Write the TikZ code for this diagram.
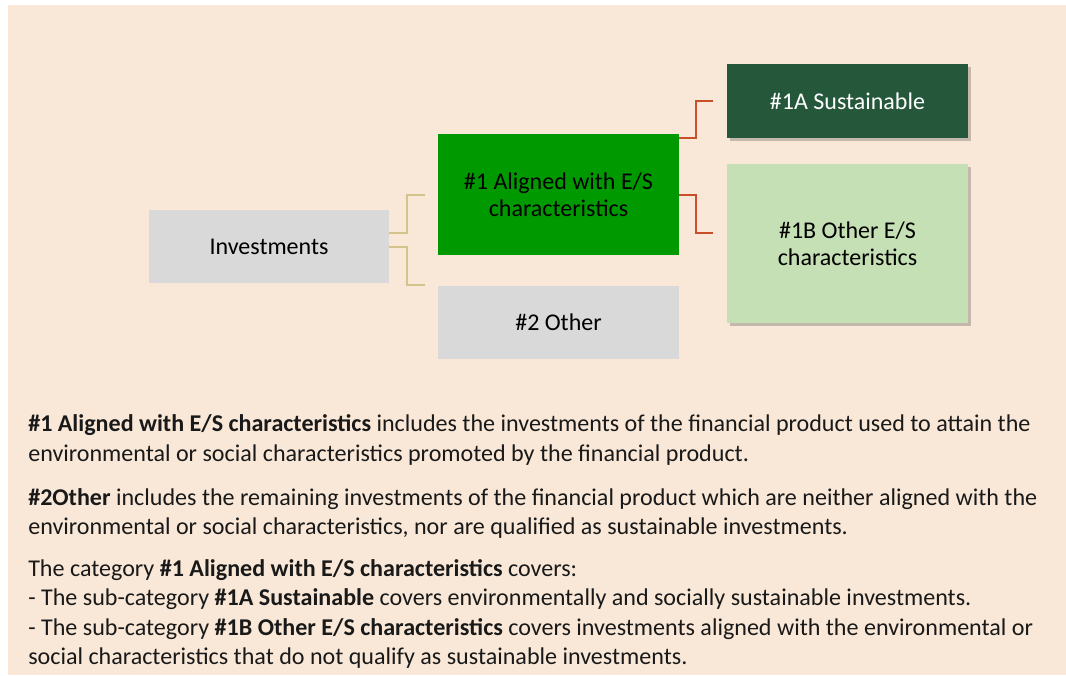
\documentclass[tikz,border=0pt]{standalone}
\usepackage{fontspec}
\setmainfont{Carlito}
\usetikzlibrary{shadows}
\definecolor{bgpeach}{RGB}{249,232,215}
\definecolor{boxgray}{RGB}{217,217,217}
\definecolor{midgreen}{RGB}{0,153,0}
\definecolor{darkgreen}{RGB}{37,88,58}
\definecolor{lightgreen}{RGB}{197,224,180}
\definecolor{tanline}{RGB}{212,196,140}
\definecolor{redline}{RGB}{200,78,44}
\tikzset{
  box/.style={rectangle, inner sep=0pt, align=center, font=\fontsize{18}{20.2}\selectfont, text=black},
  shadowbox/.style={box, drop shadow={shadow xshift=2pt, shadow yshift=-2pt, opacity=0.3, fill=black!70}},
  tanconn/.style={draw=tanline, line width=1.5pt},
  redconn/.style={draw=redline, line width=1.5pt},
  bodyline/.style={anchor=base west, inner sep=0pt, font=\fontsize{18.05}{22.5}\selectfont, text=black!90}
}
\begin{document}
\begin{tikzpicture}[x=0.75pt, y=-0.75pt]
\useasboundingbox (0,0) rectangle (1066,675);
\fill[bgpeach] (8,5) rectangle (1066,675);

% boxes
\node[box, fill=boxgray, minimum width=240*0.75pt, minimum height=73*0.75pt] (inv) at (269,246.5) {Investments};
\node[box, fill=midgreen, minimum width=241*0.75pt, minimum height=121*0.75pt] (alig) at (558.5,194.5) {\#1 Aligned with E/S\\characteristics};
\node[box, fill=boxgray, minimum width=241*0.75pt, minimum height=73*0.75pt] (oth) at (558.5,322.5) {\#2 Other};
\node[shadowbox, fill=darkgreen, text=white, minimum width=241*0.75pt, minimum height=74*0.75pt] (sust) at (847.5,101) {\#1A Sustainable};
\node[shadowbox, fill=lightgreen, minimum width=241*0.75pt, minimum height=159*0.75pt] (othes) at (847.5,243.5) {\#1B Other E/S\\characteristics};

% connector ends
\coordinate (te1) at (425,195);
\coordinate (te2) at (425,284.5);
\coordinate (re1) at (713,100.5);
\coordinate (re2) at (713,233);

\draw[tanconn] (inv.east |- 0,233) -- (407,233) |- (te1);
\draw[tanconn] (inv.east |- 0,247) -- (407,247) |- (te2);
\draw[redconn] (alig.east |- 0,138) -- (696,138) |- (re1);
\draw[redconn] (alig.east |- 0,195) -- (696,195) |- (re2);

% body text
\node[bodyline] (p1a) at (28,431) {\textbf{\#1 Aligned with E/S characteristics} includes the investments of the financial product used to attain the};
\node[bodyline] (p1b) at (28,461) {environmental or social characteristics promoted by the financial product.};
\node[bodyline] (p2a) at (28,505) {\textbf{\#2Other} includes the remaining investments of the financial product which are neither aligned with the};
\node[bodyline] (p2b) at (28,534) {environmental or social characteristics, nor are qualified as sustainable investments.};
\node[bodyline] (p3a) at (28,576) {The category \textbf{\#1 Aligned with E/S characteristics} covers:};
\node[bodyline] (p3b) at (28,605.5) {- The sub-category \textbf{\#1A Sustainable} covers environmentally and socially sustainable investments.};
\node[bodyline] (p3c) at (28,635) {- The sub-category \textbf{\#1B Other E/S characteristics} covers investments aligned with the environmental or};
\node[bodyline] (p3d) at (28,664) {social characteristics that do not qualify as sustainable investments.};
\end{tikzpicture}
\end{document}
